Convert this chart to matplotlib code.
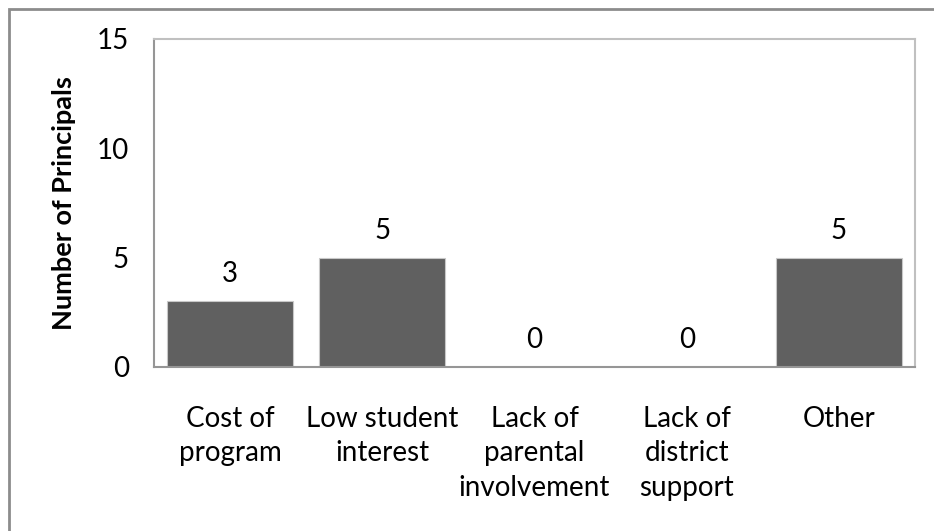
import numpy as np
import matplotlib.pyplot as plt

# reasons given by principals
categories = ["Cost of\nprogram", "Low student\ninterest", "Lack of\nparental\ninvolvement",
              "Lack of\ndistrict\nsupport", "Other"]
counts = [3, 5, 0, 0, 5]
yticks = [0, 5, 10, 15]

plt.rcParams['font.family'] = ['Lato', 'DejaVu Sans']

fig = plt.figure(figsize=(9.34, 5.31), dpi=100)
ax = fig.add_axes([0.1649, 0.3089, 0.9797 - 0.1649, 0.9266 - 0.3089])

x = np.arange(len(categories))
ax.bar(x, counts, width=0.83, color='#606060', edgecolor='#c8c8c8', linewidth=0.8, zorder=2)
for xi, v in zip(x, counts):
    ax.annotate(str(v), (xi, v), xytext=(0, 10), textcoords='offset points',
                ha='center', va='bottom', fontsize=20, color='black')

ax.set_xlim(-0.5, len(categories) - 0.5)
ax.set_ylim(0, 15)
ax.set_yticks(yticks)
ax.set_yticklabels([str(t) for t in yticks], fontsize=20)
ax.set_xticks(x)
ax.set_xticklabels(categories, fontsize=20, linespacing=1.4)
ax.tick_params(axis='both', length=0)
ax.tick_params(axis='y', pad=18)
ax.tick_params(axis='x', pad=28)
ax.set_ylabel("Number of Principals", fontsize=19.5, fontweight='bold', labelpad=15)

for side in ['top', 'right']:
    ax.spines[side].set_color('#c0c0c0')
    ax.spines[side].set_linewidth(1.5)
for side in ['left', 'bottom']:
    ax.spines[side].set_color('#969696')
    ax.spines[side].set_linewidth(1.5)

# outer chart frame
fig.patches.append(plt.Rectangle((9 / 934, -0.05), 1.2, 1 - 9 / 531 + 0.05,
                                 transform=fig.transFigure, fill=False,
                                 edgecolor='#8c8c8c', linewidth=2))

fig.savefig("out.png", dpi=100)
